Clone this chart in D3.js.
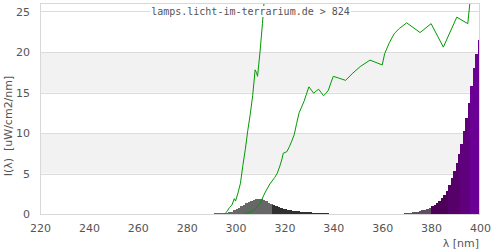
<!DOCTYPE html>
<html>
<head>
<meta charset="utf-8">
<script src="https://cdn.jsdelivr.net/npm/d3@7"></script>
<style>
  body { margin: 0; background: #fff; }
  svg { display: block; }
  text { font-family: "DejaVu Sans", sans-serif; }
</style>
</head>
<body>
<svg width="500" height="250"></svg>
<script>
// Measured spectrum, [wavelength nm, value], one bar per nm
var spectrum = [
  [291,0.08],[292,0.08],[293,0.1],[294,0.1],[295,0.12],[296,0.15],[297,0.22],[298,0.3],
  [299,0.45],[300,0.6],[301,0.8],[302,0.95],[303,1.15],[304,1.3],[305,1.45],[306,1.6],
  [307,1.7],[308,1.8],[309,1.85],[310,1.8],[311,1.7],[312,1.55],[313,1.4],[314,1.25],
  [315,1.1],[316,0.95],[317,0.85],[318,0.75],[319,0.65],[320,0.58],[321,0.5],[322,0.45],
  [323,0.4],[324,0.37],[325,0.33],[326,0.3],[327,0.27],[328,0.25],[329,0.22],[330,0.2],
  [331,0.18],[332,0.16],[333,0.15],[334,0.13],[335,0.12],[336,0.1],[337,0.1],
  [369,0.1],[370,0.12],[371,0.15],[372,0.2],[373,0.25],[374,0.3],[375,0.38],[376,0.45],
  [377,0.55],[378,0.65],[379,0.8],[380,1.0],[381,1.15],[382,1.35],[383,1.6],[384,1.95],
  [385,2.4],[386,2.9],[387,3.6],[388,4.4],[389,5.3],[390,6.3],[391,7.4],[392,8.7],
  [393,10.2],[394,11.9],[395,13.7],[396,15.8],[397,18.0],[398,19.8],[399,21.5]
];

// reference curves (green)
var curveA = [
  [295.5,0],[296.5,0.3],[297.5,0.8],[298.5,1.1],[299.5,1.9],[300,1.6],[301,2.6],[302,3.8],
  [303,6.0],[304,8.0],[305,10.3],[306,12.3],[307,14.6],[308,17.8],[308.5,17.5],[309,17.0],
  [310,20.0],[311,23.5],[312,27.5]
];
var curveB = [
  [303.5,0],[306,0.2],[308,0.6],[310,1.3],[312,2.6],[314,3.7],[316,4.5],[317,5.0],[318,5.8],
  [319,6.8],[319.5,7.5],[321,7.7],[322,8.3],[323,9.0],[324,9.8],[325,11.2],[326,12.5],
  [327,13.2],[328,13.9],[329,14.8],[330,15.7],[331,15.3],[332,14.9],[333,15.2],[334,15.4],
  [335,15.0],[336,14.6],[337,14.9],[338,15.3],[339,16.2],[340,17.0],[342,16.8],[345,16.5],
  [348,17.4],[351,18.2],[355,19.0],[360,18.4],[361,19.8],[363,21.2],[365,22.3],[367,22.9],
  [370,23.6],[375.5,22.4],[380,23.5],[385,20.6],[390.5,24.3],[395,23.5],[396,26.5],[397,30]
];

var xTicks = [220, 240, 260, 280, 300, 320, 340, 360, 380, 400];
var yTicks = [0, 5, 10, 15, 20, 25];
var title = "lamps.licht-im-terrarium.de > 824";

var svg = d3.select("svg");
var pLeft = 40, pRight = 480, pTop = 3.4, pBottom = 214;

var x = d3.scaleLinear().domain([220, 400]).range([pLeft, pRight]);
var y = d3.scaleLinear().domain([0, 26]).range([pBottom, pTop]);

// colour of a bar by wavelength band
var colorBand = d3.scaleThreshold()
    .domain([315, 350, 380, 387, 392, 396])
    .range(["#676767", "#303030", "#5e5060", "#4c0058", "#56006a", "#60007c", "#6a0094"]);

svg.append("clipPath").attr("id", "plot")
    .append("rect")
    .attr("x", pLeft).attr("y", pTop)
    .attr("width", pRight - pLeft).attr("height", pBottom - pTop);

// alternating background bands
var bands = [[5, 10], [15, 20]];
svg.append("g").selectAll("rect")
    .data(bands)
    .enter().append("rect")
    .attr("x", pLeft)
    .attr("width", pRight - pLeft)
    .attr("y", function (d) { return y(d[1]); })
    .attr("height", function (d) { return y(d[0]) - y(d[1]); })
    .attr("fill", "#f2f2f2");

// grid lines
svg.append("g").selectAll("line")
    .data(yTicks.slice(1))
    .enter().append("line")
    .attr("x1", pLeft).attr("x2", pRight)
    .attr("y1", function (d) { return Math.round(y(d)) + 0.5; })
    .attr("y2", function (d) { return Math.round(y(d)) + 0.5; })
    .attr("stroke", "#dcdcdc");

// spectrum bars
svg.append("g")
    .attr("clip-path", "url(#plot)")
    .attr("shape-rendering", "crispEdges")
    .selectAll("rect")
    .data(spectrum)
    .enter().append("rect")
    .attr("x", function (d) { return x(d[0]); })
    .attr("width", function (d) { return x(d[0] + 1) - x(d[0]) + 0.6; })
    .attr("y", function (d) { return y(d[1]); })
    .attr("height", function (d) { return pBottom - y(d[1]); })
    .attr("fill", function (d) { return colorBand(d[0]); });

var line = d3.line()
    .x(function (d) { return x(d[0]); })
    .y(function (d) { return y(d[1]); });

svg.append("g")
    .attr("clip-path", "url(#plot)")
    .selectAll("path")
    .data([curveA, curveB])
    .enter().append("path")
    .attr("d", line)
    .attr("fill", "none")
    .attr("stroke", "#009900")
    .attr("stroke-width", 1);

// frame
svg.append("rect")
    .attr("x", pLeft + 0.5).attr("y", Math.round(pTop) + 0.5)
    .attr("width", pRight - pLeft - 1).attr("height", pBottom - Math.round(pTop))
    .attr("fill", "none")
    .attr("stroke", "#d8d8d8");

// axes
var yAxis = svg.append("g")
    .attr("transform", "translate(" + pLeft + ",0)")
    .call(d3.axisLeft(y).tickValues(yTicks).tickSize(0).tickPadding(10));
var xAxis = svg.append("g")
    .attr("transform", "translate(0," + pBottom + ")")
    .call(d3.axisBottom(x).tickValues(xTicks).tickSize(0).tickPadding(10));
[yAxis, xAxis].forEach(function (a) {
    a.select(".domain").remove();
    a.selectAll("text")
        .attr("fill", "#555")
        .style("font-size", "11px")
        .style("font-family", "DejaVu Sans, sans-serif");
});

// axis titles
svg.append("text")
    .attr("x", 479).attr("y", 247)
    .attr("text-anchor", "end")
    .attr("fill", "#555")
    .style("font-size", "11px")
    .text("λ [nm]");

svg.append("text")
    .attr("transform", "translate(12,126) rotate(-90)")
    .attr("text-anchor", "middle")
    .attr("fill", "#555")
    .style("font-size", "11px")
    .style("white-space", "pre")
    .text("I(λ)  [uW/cm2/nm]");

// title with white box behind it
var t = svg.append("text")
    .attr("x", 250.5).attr("y", 15)
    .attr("text-anchor", "middle")
    .attr("fill", "#555")
    .style("font-family", "DejaVu Sans Mono, monospace")
    .style("font-size", "10px")
    .text(title);
var bb = t.node().getBBox();
svg.append("rect")
    .attr("x", bb.x - 1).attr("y", bb.y)
    .attr("width", bb.width + 2).attr("height", bb.height)
    .attr("fill", "#fff");
t.raise();
</script>
</body>
</html>
